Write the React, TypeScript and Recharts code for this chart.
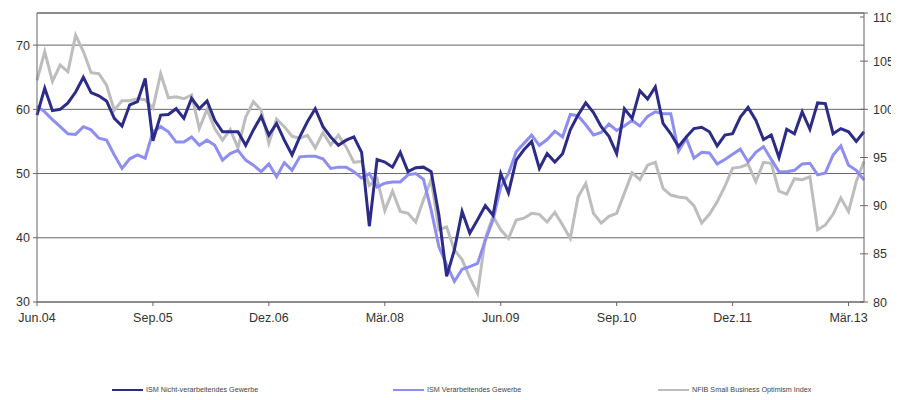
import React from "react";
import { LineChart, Line, XAxis, YAxis, CartesianGrid, ReferenceLine } from "recharts";

// monthly, Jun.04 .. Mai.13
const monthNames = ["Jan", "Feb", "Mär", "Apr", "Mai", "Jun", "Jul", "Aug", "Sep", "Okt", "Nov", "Dez"];
const months: string[] = [];
for (let k = 0; k < 108; k++) {
  const m = (5 + k) % 12;
  const y = 4 + Math.floor((5 + k) / 12);
  months.push(`${monthNames[m]}.${String(y).padStart(2, "0")}`);
}

const ismNonMfg = [
  59.1, 63.3, 59.8, 60.0, 61.0, 62.7, 65.0, 62.6, 62.1, 61.3, 58.6, 57.4,
  60.7, 61.2, 64.8, 55.1, 59.1, 59.2, 60.1, 58.6, 61.7, 60.1, 61.3, 58.3,
  56.5, 56.5, 56.5, 54.4, 56.8, 58.9, 56.0, 57.8, 55.2, 52.9, 55.7, 58.1,
  60.1, 57.3, 55.7, 54.4, 55.2, 55.7, 53.3, 41.8, 52.2, 51.8, 51.0, 53.3,
  50.3, 50.9, 51.0, 50.3, 43.5, 34.0, 38.1, 44.1, 40.7, 42.8, 45.0, 43.5,
  50.0, 47.0, 52.1, 53.7, 55.0, 50.8, 53.1, 51.8, 53.1, 56.8, 59.1, 61.0,
  59.5, 57.3, 55.8, 53.1, 60.1, 58.6, 62.9, 61.6, 63.5, 57.8, 56.2, 54.2,
  55.7, 57.0, 57.2, 56.5, 54.3, 56.0, 56.2, 58.8, 60.3, 58.3, 55.3, 56.0,
  52.5, 56.9, 56.2, 59.6, 56.9, 61.0, 60.9, 56.2, 57.0, 56.5, 55.0, 56.5,
];

const ismMfg = [
  60.5, 59.6, 58.4, 57.3, 56.2, 56.1, 57.3, 56.8, 55.5, 55.2, 52.9, 50.8,
  52.3, 52.9, 52.4, 56.5, 57.3, 56.5, 54.9, 54.9, 55.7, 54.4, 55.2, 54.4,
  52.1, 53.1, 53.6, 52.1, 51.3, 50.3, 51.5, 49.5, 51.7, 50.5, 52.6, 52.7,
  52.7, 52.3, 50.8, 51.0, 51.0, 50.3, 49.3, 50.0, 47.9, 48.5, 48.7, 48.7,
  49.8, 50.0, 49.1, 44.3, 38.6, 35.8, 33.2, 35.1, 35.5, 36.0, 39.6, 42.8,
  47.9, 50.0, 53.4, 54.7, 56.0, 54.4, 55.3, 56.6, 55.7, 59.2, 59.0, 57.6,
  56.0, 56.4, 57.7, 56.7, 57.4, 58.3, 57.4, 58.9, 59.6, 59.3, 59.3, 53.5,
  55.5, 52.4, 53.3, 53.2, 51.5, 52.2, 53.0, 53.8, 51.8, 53.3, 54.2, 52.2,
  50.3, 50.3, 50.5, 51.5, 51.6, 49.8, 50.1, 52.9, 54.3, 51.3, 50.5, 49.0,
];

const nfib = [
  103.0, 106.0, 102.9, 104.6, 103.9, 107.7, 106.0, 103.8, 103.7, 102.5, 99.9, 100.9,
  100.9, 101.1, 101.0, 100.1, 103.7, 101.2, 101.3, 101.1, 101.5, 98.0, 100.0, 98.0,
  96.8, 97.9, 96.0, 99.2, 100.8, 99.9, 96.5, 99.0, 98.2, 97.2, 97.0, 97.3,
  96.0, 97.6, 96.3, 97.3, 96.1, 94.5, 94.6, 92.1, 92.8, 89.5, 91.5, 89.4,
  89.2, 88.3, 90.6, 92.7, 87.5, 87.8, 85.4, 84.4, 82.5, 80.9, 86.6, 88.9,
  87.5, 86.6, 88.5, 88.7, 89.2, 89.1, 88.3, 89.3, 88.0, 86.6, 90.9, 92.3,
  89.2, 88.2, 88.9, 89.2, 91.3, 93.4, 92.7, 94.2, 94.5, 91.8, 91.1, 90.9,
  90.8, 90.0, 88.2, 89.1, 90.4, 92.0, 93.9, 94.0, 94.3, 92.5, 94.5, 94.4,
  91.5, 91.2, 92.8, 92.7, 93.0, 87.5, 88.0, 89.1, 90.8, 89.4, 92.5, 94.6,
];

const leftTicks = [30, 40, 50, 60, 70];
const rightTicks = [80, 85, 90, 95, 100, 105, 110];

const series = [
  { key: "nfib", name: "NFIB Small Business Optimism Index", color: "#bdbdbd", axis: "right" },
  { key: "mfg", name: "ISM Verarbeitendes Gewerbe", color: "#8e8ef2", axis: "left" },
  { key: "nonmfg", name: "ISM Nicht-verarbeitendes Gewerbe", color: "#2c2c88", axis: "left" },
];

const data = months.map((m, i) => ({
  m,
  nonmfg: ismNonMfg[i],
  mfg: ismMfg[i],
  nfib: nfib[i],
}));

const axisColor = "#666";
const labelColor = "#333";
const font = "'Liberation Sans', Arial, sans-serif";

const RightTick = (props: any) => {
  const { x, y, payload } = props;
  return (
    <g>
      <line x1={x - 13} x2={x - 9} y1={y} y2={y} stroke={axisColor} />
      <text x={x} y={y} dy={4.5} fontSize={12.5} fill={labelColor} fontFamily={font} textAnchor="start">
        {payload.value}
      </text>
    </g>
  );
};

// legend slots, left to right
const legendItems = [
  { key: "nonmfg", left: 104 },
  { key: "mfg", left: 385 },
  { key: "nfib", left: 650 },
];

export default function App() {
  return (
    <div style={{ position: "relative", width: 891, height: 392, fontFamily: font }}>
      <LineChart width={891} height={392} data={data} margin={{ top: 5, right: 0, bottom: 68, left: 0 }}>
        <CartesianGrid horizontal vertical={false} stroke={axisColor} yAxisId="left" />
        <XAxis
          dataKey="m"
          interval={14}
          height={30}
          tickSize={4}
          tickMargin={7}
          stroke={axisColor}
          tick={{ fill: labelColor, fontSize: 12.5, fontFamily: font }}
        />
        <YAxis
          yAxisId="left"
          domain={[30, 75]}
          ticks={leftTicks}
          width={29}
          tickSize={4}
          tickMargin={3}
          stroke={axisColor}
          tick={{ fill: labelColor, fontSize: 12.5, fontFamily: font }}
        />
        <YAxis
          yAxisId="right"
          orientation="right"
          domain={[80, 110]}
          ticks={rightTicks}
          width={35}
          tickSize={4}
          tickMargin={5}
          stroke={axisColor}
          tick={<RightTick />}
        />
        <ReferenceLine yAxisId="left" y={75} stroke={axisColor} />
        {series.map((s) => (
          <Line
            key={s.key}
            yAxisId={s.axis}
            dataKey={s.key}
            name={s.name}
            stroke={s.color}
            strokeWidth={3}
            dot={false}
            type="linear"
            isAnimationActive={false}
          />
        ))}
      </LineChart>
      {legendItems.map((li) => {
        const s = series.find((x) => x.key === li.key)!;
        return (
          <div
            key={li.key}
            style={{ position: "absolute", left: li.left, top: 377, display: "flex", alignItems: "center", whiteSpace: "nowrap" }}
          >
            <div style={{ width: 31, height: 2, background: s.color, marginRight: 3 }} />
            <span style={{ fontSize: 7.2, color: "#444" }}>{s.name}</span>
          </div>
        );
      })}
    </div>
  );
}
